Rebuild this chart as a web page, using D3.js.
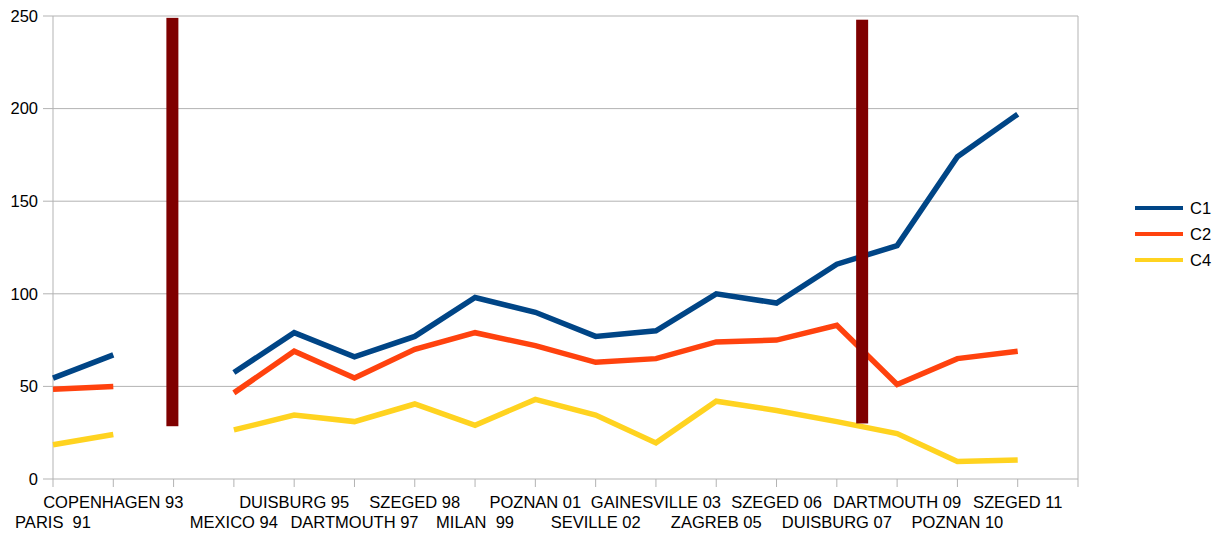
<!DOCTYPE html>
<html>
<head>
<meta charset="utf-8">
<script src="https://cdn.jsdelivr.net/npm/d3@7"></script>
<style>
  body { margin: 0; background: #fff; }
  text { font-family: "Liberation Sans", Arial, sans-serif; fill: #000; }
</style>
</head>
<body>
<div id="chart"></div>
<script>
// categories (index 2 is an empty slot)
var categories = ["PARIS  91", "COPENHAGEN 93", "", "MEXICO 94", "DUISBURG 95", "DARTMOUTH 97",
  "SZEGED 98", "MILAN  99", "POZNAN 01", "SEVILLE 02", "GAINESVILLE 03", "ZAGREB 05",
  "SZEGED 06", "DUISBURG 07", "DARTMOUTH 09", "POZNAN 10", "SZEGED 11"];

var c1 = [54.5, 67, null, 57.5, 79, 66, 77, 98, 90, 77, 80, 100, 95, 116, 126, 174, 197];
var c2 = [48.5, 50, null, 46.5, 69, 54.5, 70, 79, 72, 63, 65, 74, 75, 83, 51, 65, 69];
var c4 = [18.5, 24, null, 26.5, 34.5, 31, 40.5, 29, 43, 34.5, 19.5, 42, 37, 31, 24.5, 9.5, 10.2];

var seriesNames = ["C1", "C2", "C4"];
var seriesColors = ["#004586", "#ff420e", "#ffd320"];

var yTicks = [0, 50, 100, 150, 200, 250];

// the two dark red vertical markers (category position, low, high)
var markerPos = [1.98, 13.42];
var markerLow = [28.5, 30];
var markerHigh = [249, 248];

var width = 1229, height = 538;
var margin = {left: 53, top: 16, right: 151, bottom: 59};
var plotW = width - margin.left - margin.right,
    plotH = height - margin.top - margin.bottom;

var svg = d3.select("#chart").append("svg")
    .attr("width", width)
    .attr("height", height);

var g = svg.append("g")
    .attr("transform", "translate(" + margin.left + "," + margin.top + ")");

// 17 categories, axis spans 17 intervals (points sit on the ticks)
var x = d3.scaleLinear()
    .domain([0, categories.length])
    .range([0, plotW]);

var y = d3.scaleLinear()
    .domain([0, 250])
    .range([plotH, 0]);

var grey = "#b3b3b3";

// horizontal grid + y ticks
g.selectAll(".grid")
  .data(yTicks)
  .join("line")
    .attr("x1", -10)
    .attr("x2", plotW)
    .attr("y1", d => y(d))
    .attr("y2", d => y(d))
    .attr("stroke", grey)
    .attr("stroke-width", 1);

g.selectAll(".ylab")
  .data(yTicks)
  .join("text")
    .attr("x", -15)
    .attr("y", d => y(d))
    .attr("dy", "0.35em")
    .attr("text-anchor", "end")
    .style("font-size", "16.5px")
    .text(d => d);

// frame
g.append("line").attr("x1", 0).attr("x2", 0).attr("y1", 0).attr("y2", plotH)
  .attr("stroke", grey);
g.append("line").attr("x1", plotW).attr("x2", plotW).attr("y1", 0).attr("y2", plotH)
  .attr("stroke", grey);

// x ticks
g.selectAll(".xtick")
  .data(d3.range(categories.length + 1))
  .join("line")
    .attr("x1", d => x(d))
    .attr("x2", d => x(d))
    .attr("y1", plotH)
    .attr("y2", plotH + 8)
    .attr("stroke", grey);

// x labels, staggered over two rows (empty slot skipped)
var shown = categories.map((c, i) => ({c: c, i: i})).filter(d => d.c !== "");
g.selectAll(".xlab")
  .data(shown)
  .join("text")
    .attr("x", d => x(d.i))
    .attr("y", (d, k) => plotH + (k % 2 === 1 ? 29 : 49))
    .attr("text-anchor", "middle")
    .style("font-size", "16.5px")
    .style("white-space", "pre")
    .attr("xml:space", "preserve")
    .text(d => d.c);

// series lines
var allSeries = [c1, c2, c4];
var line = d3.line()
    .defined(d => d != null)
    .x((d, i) => x(i))
    .y(d => y(d));

g.selectAll(".series")
  .data(allSeries)
  .join("path")
    .attr("d", d => line(d))
    .attr("fill", "none")
    .attr("stroke", (d, i) => seriesColors[i])
    .attr("stroke-width", 5.5)
    .attr("stroke-linejoin", "miter");

// dark red markers
g.selectAll(".marker")
  .data(markerPos)
  .join("rect")
    .attr("x", d => x(d) - 6)
    .attr("width", 12)
    .attr("y", (d, i) => y(markerHigh[i]))
    .attr("height", (d, i) => y(markerLow[i]) - y(markerHigh[i]))
    .attr("fill", "#7f0000");

// legend
var legend = svg.append("g").attr("transform", "translate(1135,208)");
var items = legend.selectAll("g")
  .data(seriesNames)
  .join("g")
    .attr("transform", (d, i) => "translate(0," + (i * 26) + ")");
items.append("line")
  .attr("x1", 0).attr("x2", 48)
  .attr("stroke", (d, i) => seriesColors[i])
  .attr("stroke-width", 4);
items.append("text")
  .attr("x", 55)
  .attr("dy", "0.35em")
  .style("font-size", "16.5px")
  .text(d => d);
</script>
</body>
</html>
